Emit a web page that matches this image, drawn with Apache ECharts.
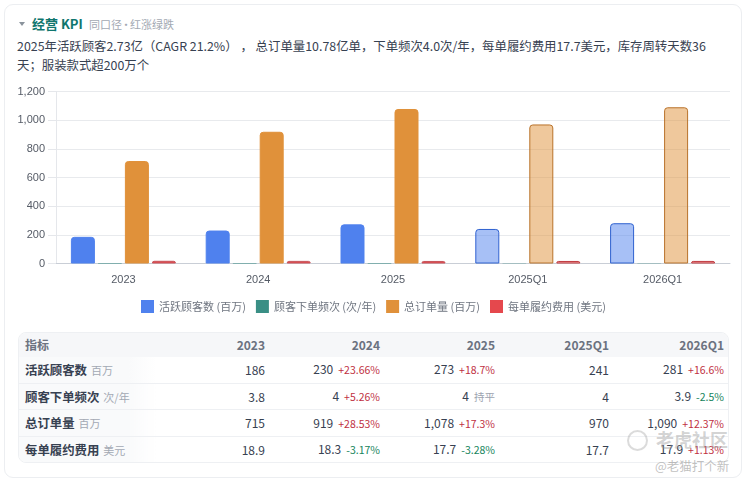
<!DOCTYPE html>
<html><head><meta charset="utf-8">
<script src="https://cdn.jsdelivr.net/npm/echarts@6/dist/echarts.min.js"></script>
<style>
html,body{margin:0;padding:0;width:744px;height:482px;overflow:hidden;background:#fff;font-family:"Noto Sans CJK SC","Noto Sans",sans-serif}
#card{position:absolute;left:4px;top:4px;width:736px;height:472px;border:1px solid #eceef1;border-radius:9px;box-sizing:content-box}
#head{position:absolute;left:19px;top:14px;height:20px;line-height:20px;white-space:nowrap}
#head .arr{position:absolute;left:0;top:8px;width:0;height:0;border-left:3px solid transparent;border-right:3px solid transparent;border-top:4px solid #8a939c}
#head b{position:absolute;left:13px;top:0;font-size:13px;color:#0f766e;font-weight:700}
#head span{position:absolute;left:70px;top:0;font-size:11px;color:#a3a9b3;word-spacing:-4px}
#sum{position:absolute;left:17px;top:37px;width:722px;font-size:12.4px;line-height:19px;color:#374151;white-space:nowrap}
#chart{position:absolute;left:0;top:70px;width:744px;height:250px}
#tbl{position:absolute;left:18px;top:332px;width:711px;height:131px;border:1px solid #eef0f3;border-radius:8px;box-sizing:border-box;overflow:hidden}
table{border-collapse:collapse;table-layout:fixed;width:711px;font-size:12px;line-height:14px}
td,th{padding:0 6px 0 0;text-align:right;white-space:nowrap;overflow:hidden}
th{height:24px;background:#f6f7f9;color:#6b7280;font-weight:700;font-size:12px}
td{height:25.7px;color:#374151;border-top:1px solid #eef0f3}
tr:nth-child(2) td{border-top:none}
.f{text-align:left;padding-left:6px;font-weight:700;font-size:12.4px;color:#374151;background:linear-gradient(90deg,#f9fafb 0,#f9fafb 80%,#fff 100%)}
th.f{color:#6b7280;background:#f6f7f9;font-size:12px}
.f i{font-style:normal;font-weight:400;color:#a3a9b3;font-size:11px;margin-left:4px}
.d{font-size:10.5px;margin-left:5px}
.up{color:#c0303f}.dn{color:#15845c}.fl{color:#9ca3af}
#wm1{position:absolute;left:656px;top:426px;font-size:18px;color:rgba(150,150,150,.42);font-weight:700;white-space:nowrap}
#wmc{position:absolute;left:627px;top:430px;width:17px;height:17px;border:2px solid rgba(170,170,170,.42);border-radius:50%}
#wm2{position:absolute;left:655px;top:456px;font-size:12.5px;color:rgba(150,150,150,.6);white-space:nowrap}
</style></head><body>
<div id="card"></div>
<div id="head"><div class="arr"></div><b>经营 KPI</b><span>同口径 · 红涨绿跌</span></div>
<div id="sum">2025年活跃顾客2.73亿（CAGR 21.2%） ， 总订单量10.78亿单，下单频次4.0次/年，每单履约费用17.7美元，库存周转天数36<br>天；服装款式超200万个</div>
<div id="chart"></div>
<div id="tbl"></div>
<div id="wmc"></div><div id="wm1">老虎社区</div><div id="wm2">@老猫打个新</div>
<script>
const categories=['2023','2024','2025','2025Q1','2026Q1'];
const customers=[186,230,273,241,281];
const frequency=[3.8,4,4,4,3.9];
const orders=[715,919,1078,970,1090];
const fulfilment=[18.9,18.3,17.7,17.7,17.9];
const customerChange=['','+23.66%','+18.7%','','+16.6%'];
const frequencyChange=['','+5.26%','持平','','-2.5%'];
const orderChange=['','+28.53%','+17.3%','','+12.37%'];
const fulfilmentChange=['','-3.17%','-3.28%','','+1.13%'];
const seriesNames=['活跃顾客数 (百万)','顾客下单频次 (次/年)','总订单量 (百万)','每单履约费用 (美元)'];
const colors=['#4f81ee','#3a8f85','#e0913a','#e5484d'];
const borders=['#2f62d0','#2b7169','#b9722a','#c13a3f'];
const partial=[false,false,false,true,true];

function fmt(v){return v.toLocaleString('en-US');}
const rows=[
 ['活跃顾客数','百万',customers,customerChange],
 ['顾客下单频次','次/年',frequency,frequencyChange],
 ['总订单量','百万',orders,orderChange],
 ['每单履约费用','美元',fulfilment,fulfilmentChange]];
let html='<table><colgroup><col style="width:137px">'+'<col style="width:115px">'.repeat(3)+'<col style="width:114px"><col style="width:115px"></colgroup><tr><th class="f">指标</th>'+categories.map(c=>'<th>'+c+'</th>').join('')+'</tr>';
rows.forEach(r=>{
 html+='<tr><td class="f">'+r[0]+'<i>'+r[1]+'</i></td>';
 r[2].forEach((v,i)=>{
  const c=r[3][i];
  const cls=c==='持平'?'fl':(c[0]==='+'?'up':'dn');
  html+='<td>'+fmt(v)+(c?'<span class="d '+cls+'">'+c+'</span>':'')+'</td>';
 });
 html+='</tr>';
});
document.getElementById('tbl').innerHTML=html+'</table>';

function makeData(vals,idx){
 const bw=idx===1?0:1;
 return vals.map((v,i)=>({value:v,itemStyle:partial[i]?
  {color:colors[idx]+'80',borderColor:borders[idx],borderWidth:bw,borderRadius:[3,3,0,0]}:
  {color:colors[idx],borderColor:idx===3?'#c8555a':colors[idx],borderWidth:bw,borderRadius:[3,3,0,0]}}));
}
const chart=echarts.init(document.getElementById('chart'),null,{renderer:'canvas'});
chart.setOption({
 animation:false,
 textStyle:{fontFamily:'"Liberation Sans","Noto Sans CJK SC",sans-serif'},
 grid:{left:56,right:14,top:21.5,height:172,containLabel:false},
 legend:{top:225,left:136,itemWidth:13,itemHeight:13,itemGap:10,icon:'rect',
  data:seriesNames,textStyle:{fontSize:11,color:'#6f7580',fontFamily:'"Noto Sans CJK SC",sans-serif'},
  itemStyle:{borderWidth:0}},
 xAxis:{type:'category',data:categories,axisTick:{show:false},
  axisLine:{lineStyle:{color:'#c9ced6'}},
  axisLabel:{color:'#555b66',fontSize:11,margin:11}},
 yAxis:{type:'value',min:0,max:1200,interval:200,
  axisLine:{show:true,lineStyle:{color:'#e5e7eb'}},
  axisTick:{show:true,length:8,lineStyle:{color:'#e5e7eb'}},
  splitLine:{lineStyle:{color:'#e8eaed'}},
  axisLabel:{color:'#555b66',fontSize:11,margin:11,formatter:v=>v.toLocaleString('en-US')}},
 series:[customers,frequency,orders,fulfilment].map((vals,idx)=>({
  name:seriesNames[idx],type:'bar',barWidth:24,barGap:'12.5%',
  itemStyle:{color:colors[idx]},data:makeData(vals,idx)}))
});
</script></body></html>
